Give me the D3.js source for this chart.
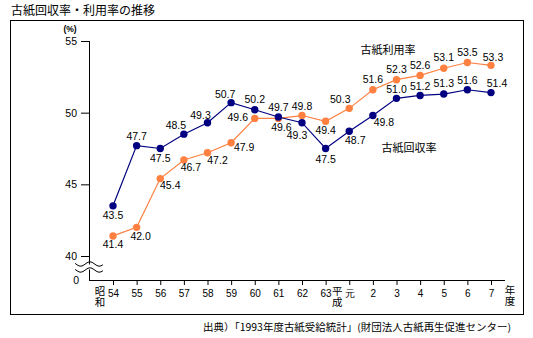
<!DOCTYPE html>
<html><head><meta charset="utf-8">
<script src="https://cdn.jsdelivr.net/npm/d3@7"></script>
<style>
html,body{margin:0;padding:0;background:#fff;}
svg{display:block;}
text{font-family:"Liberation Sans",Arial,sans-serif;}
.jp{font-family:"Noto Sans CJK JP","Noto Sans CJK SC",sans-serif;}
.vt{writing-mode:vertical-rl;}
</style></head>
<body>
<svg id="c" width="533" height="338"></svg>
<script>
// ---- data ----
const categories = ["54","55","56","57","58","59","60","61","62","63","元","2","3","4","5","6","7"];
const recoveryRate = [43.5,47.7,47.5,48.5,49.3,50.7,50.2,49.7,49.3,47.5,48.7,49.8,51.0,51.2,51.3,51.6,51.4];
const utilizationRate = [41.4,42.0,45.4,46.7,47.2,47.9,49.6,49.6,49.8,49.4,50.3,51.6,52.3,52.6,53.1,53.5,53.3];
const yTicks = [40,45,50,55];
const title = "古紙回収率・利用率の推移";
const seriesNames = ["古紙回収率","古紙利用率"];
const source = "出典）「1993年度古紙受給統計」(財団法人古紙再生促進センター)";

// label placement offsets (layout)
const recLabelOff = [[0,10],[0,-9],[0,10],[-8,-9],[-7,-7],[-6,-8],[0,-10],[0,-9],[-5,13],[0,11],[6,9],[11,7],[0,-9],[0,-9],[0,-11],[0,-9],[6,-9]];
const utlLabelOff = [[0,9],[4,9],[10,7],[7,8],[10,8],[13,5],[-17,-1],[3,9],[0,-9],[0,9],[-9,-9],[0,-10],[0,-10],[0,-10],[0,-11],[0,-10],[2,-8]];

const svg = d3.select("#c");
const blue = "#000080", orange = "#ff8040";

// frame
svg.append("rect").attr("x",10.5).attr("y",20.5).attr("width",513).attr("height",294)
  .attr("fill","none").attr("stroke","#000").attr("stroke-width",1);

svg.append("text").attr("class","jp").attr("x",11).attr("y",15).attr("font-size",12).text(title);

const x = d3.scalePoint().domain(categories).range([113,491]);
const y = d3.scaleLinear().domain([40,55]).range([256,41]);
const axisX = 89, baseY = 280;

// y axis
const yAxis = svg.append("g").attr("transform",`translate(${axisX},0)`)
  .call(d3.axisLeft(y).tickValues(yTicks).tickSize(8).tickFormat(d3.format("d")));
yAxis.select(".domain").remove();
yAxis.selectAll("text").attr("font-size",10.5).attr("fill","#000").attr("dx",-1).attr("font-family","Liberation Sans, Arial, sans-serif");
yAxis.selectAll("line").attr("stroke","#000");
svg.append("line").attr("x1",axisX+0.5).attr("x2",axisX+0.5).attr("y1",y(55)).attr("y2",baseY).attr("stroke","#000");
svg.append("text").attr("x",axisX-10).attr("y",baseY+4).attr("text-anchor","end").attr("font-size",10.5).text("0");
svg.append("text").attr("x",70).attr("y",32).attr("text-anchor","middle").attr("font-size",8.5).attr("font-weight","bold").text("(%)");

// break mark
svg.append("rect").attr("x",74).attr("y",264.5).attr("width",30).attr("height",5).attr("fill","#fff");
function wave(y0){
  const pts = d3.range(0,29).map(i=>[75+i, y0 + 2.2*Math.sin((i/28)*3*Math.PI - Math.PI*0.1)]);
  return d3.line().curve(d3.curveBasis)(pts);
}
svg.append("path").attr("d",wave(264)).attr("fill","none").attr("stroke","#000");
svg.append("path").attr("d",wave(270)).attr("fill","none").attr("stroke","#000");

// x axis
const xAxis = svg.append("g").attr("transform",`translate(0,${baseY})`)
  .call(d3.axisBottom(x).tickSize(5).tickPadding(5));
xAxis.select(".domain").remove();
xAxis.selectAll("line").attr("stroke","#000");
xAxis.selectAll("text").attr("font-size",10).attr("fill","#000").attr("font-family",d=>d==="元"?"Noto Sans CJK JP":"Liberation Sans, Arial, sans-serif");
svg.append("line").attr("x1",axisX).attr("x2",505).attr("y1",baseY+0.5).attr("y2",baseY+0.5).attr("stroke","#000");
// era labels (vertical text)
function vtext(str, cx, top){
  svg.append("text").attr("class","jp vt").attr("x",cx).attr("y",top).attr("font-size",10.5).text(str);
}
vtext("昭和", 100, 286);
vtext("平成", x("元")-12, 286);
vtext("年度", 510, 285);

// series
function drawSeries(vals, color, offs){
  const line = d3.line().x((d,i)=>x(categories[i])).y(d=>y(d));
  svg.append("path").datum(vals).attr("d",line).attr("fill","none").attr("stroke",color).attr("stroke-width",1.2);
  svg.append("g").selectAll("circle").data(vals).join("circle")
    .attr("cx",(d,i)=>x(categories[i])).attr("cy",d=>y(d)).attr("r",3.7).attr("fill",color);
  svg.append("g").selectAll("text").data(vals).join("text")
    .attr("x",(d,i)=>x(categories[i])+offs[i][0]).attr("y",(d,i)=>y(d)+offs[i][1]+3.5)
    .attr("text-anchor","middle").attr("font-size",10.5).attr("fill","#000")
    .text(d=>d.toFixed(1));
}
drawSeries(utilizationRate, orange, utlLabelOff);
drawSeries(recoveryRate, blue, recLabelOff);

svg.append("text").attr("class","jp").attr("x",388).attr("y",54).attr("text-anchor","middle").attr("font-size",11).text(seriesNames[1]);
svg.append("text").attr("class","jp").attr("x",409).attr("y",152).attr("text-anchor","middle").attr("font-size",11).text(seriesNames[0]);

svg.append("text").attr("class","jp").attr("x",511).attr("y",331).attr("text-anchor","end").attr("font-size",10)
  .attr("textLength",308).attr("lengthAdjust","spacingAndGlyphs").text(source);
</script>
</body></html>
